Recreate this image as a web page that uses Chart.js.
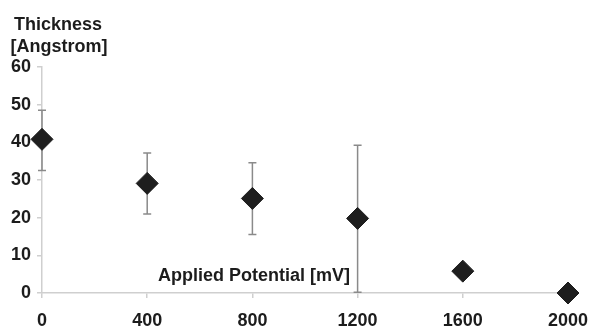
<!DOCTYPE html>
<html>
<head>
<meta charset="utf-8">
<script src="https://cdn.jsdelivr.net/npm/chart.js@4.4.1/dist/chart.umd.min.js"></script>
<style>
  html, body { margin: 0; padding: 0; background: #fff; }
  #wrap { width: 591px; height: 326px; position: relative; }
</style>
</head>
<body>
<div id="wrap"><canvas id="chart"></canvas></div>
<script>
// potentials (mV) and measured thickness (Angstrom)
var potentials = [0, 400, 800, 1200, 1600, 2000];
var thickness = [40.8, 29.1, 25.1, 19.8, 5.8, 0];
// error bar ends, null = no bar
var errHigh = [48.5, 37.2, 34.6, 39.2, null, null];
var errLow = [32.5, 21.0, 15.5, 0.2, null, null];
var xTicks = [0, 400, 800, 1200, 1600, 2000];
var yTicks = [0, 10, 20, 30, 40, 50, 60];

var textColor = '#1c1c1c';
var axisColor = '#cfcfcf';
var fontFam = '"Liberation Sans", Arial, sans-serif';

// draws the vertical error bars with small caps
var errorBars = {
    id: 'errorBars',
    beforeDatasetsDraw: function (chart) {
        var ctx = chart.ctx;
        var xs = chart.scales.x, ys = chart.scales.y;
        ctx.save();
        ctx.strokeStyle = '#8a8a8a';
        ctx.lineWidth = 1.5;
        for (var i = 0; i < potentials.length; i++) {
            if (errHigh[i] == null) continue;
            var px = xs.getPixelForValue(potentials[i]);
            var top = ys.getPixelForValue(errHigh[i]);
            var bot = ys.getPixelForValue(errLow[i]);
            ctx.beginPath();
            ctx.moveTo(px, top); ctx.lineTo(px, bot);
            ctx.moveTo(px - 4, top); ctx.lineTo(px + 4, top);
            ctx.moveTo(px - 4, bot); ctx.lineTo(px + 4, bot);
            ctx.stroke();
        }
        ctx.restore();
    }
};

// axis titles: y title above the axis, x title inside the plot
var axisTitles = {
    id: 'axisTitles',
    afterDraw: function (chart) {
        var ctx = chart.ctx;
        var a = chart.chartArea;
        ctx.save();
        ctx.fillStyle = textColor;
        ctx.font = 'bold 18px ' + fontFam;
        ctx.textBaseline = 'alphabetic';
        ctx.textAlign = 'center';
        ctx.fillText('Thickness', 58, 30);
        ctx.fillText('[Angstrom]', 59, 52);
        ctx.textAlign = 'left';
        ctx.fillText('Applied Potential [mV]', a.left + 116, a.bottom - 12);
        ctx.restore();
    }
};

var data = potentials.map(function (p, i) { return { x: p, y: thickness[i] }; });

new Chart(document.getElementById('chart'), {
    type: 'scatter',
    data: {
        datasets: [{
            data: data,
            pointStyle: 'rectRot',
            pointRadius: 11,
            pointHoverRadius: 11,
            backgroundColor: '#1e1e1e',
            borderColor: '#1e1e1e',
            borderWidth: 1
        }]
    },
    options: {
        responsive: true,
        maintainAspectRatio: false,
        animation: false,
        clip: false,
        layout: { padding: { top: 67, right: 0, left: 0, bottom: 0 } },
        plugins: { legend: { display: false }, tooltip: { enabled: false } },
        scales: {
            x: {
                type: 'linear',
                min: 0, max: 2000,
                afterBuildTicks: function (s) { s.ticks = xTicks.map(function (v) { return { value: v }; }); },
                afterFit: function (s) { s.height = 33; s.paddingLeft = 0; s.paddingRight = 23; },
                grid: { drawOnChartArea: false, drawTicks: true, tickLength: 5, color: axisColor, lineWidth: 1.5 },
                border: { display: true, color: axisColor, width: 1.5 },
                ticks: {
                    color: textColor, padding: 12, maxRotation: 0,
                    font: { family: fontFam, size: 18, weight: 'bold' },
                    callback: function (v) { return String(v); }
                }
            },
            y: {
                type: 'linear',
                min: 0, max: 60,
                afterBuildTicks: function (s) { s.ticks = yTicks.map(function (v) { return { value: v }; }); },
                afterFit: function (s) { s.width = 42; },
                grid: { drawOnChartArea: false, drawTicks: true, tickLength: 5, color: axisColor, lineWidth: 1.5 },
                border: { display: true, color: axisColor, width: 1.5 },
                ticks: {
                    color: textColor, padding: 6,
                    font: { family: fontFam, size: 18, weight: 'bold' },
                    callback: function (v) { return String(v); }
                }
            }
        }
    },
    plugins: [errorBars, axisTitles]
});
</script>
</body>
</html>
